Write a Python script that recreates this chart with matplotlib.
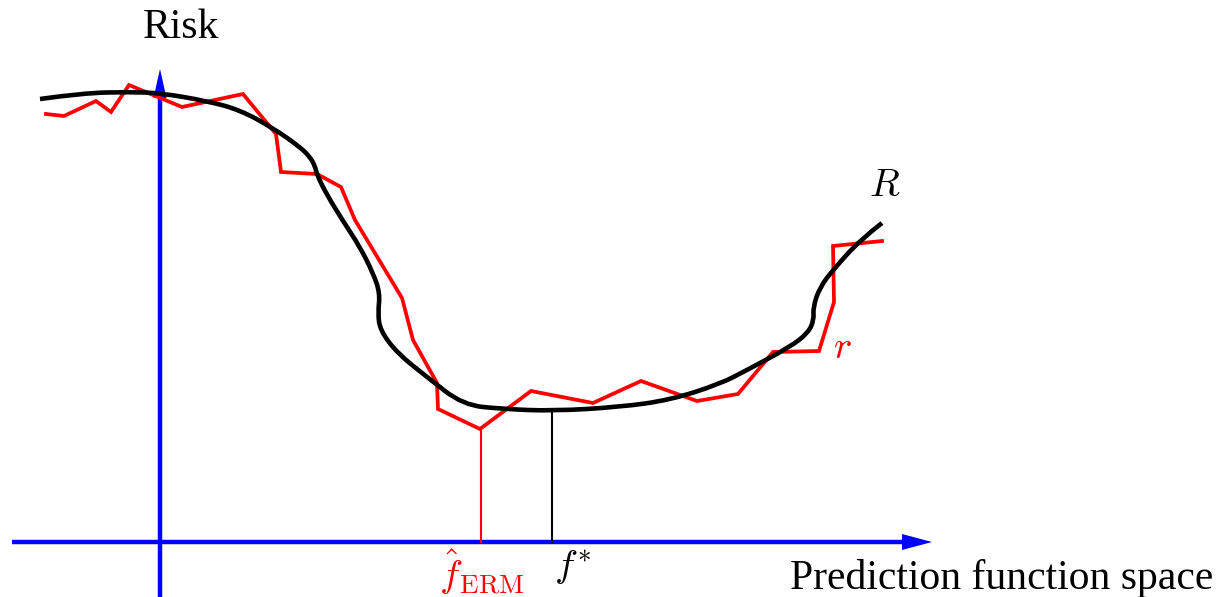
import matplotlib
matplotlib.use("Agg")
import matplotlib.pyplot as plt
from matplotlib.path import Path
from matplotlib.patches import PathPatch

plt.rcParams["mathtext.fontset"] = "cm"
plt.rcParams["font.family"] = ["Liberation Serif", "DejaVu Serif"]

# Empirical risk r (piecewise linear)
r_x = [46, 64, 96, 111, 129, 182, 243, 276, 281, 317, 341, 355, 402, 413, 437, 438,
       480, 531, 593, 641, 697, 738, 773, 819, 834, 833, 882]
r_y = [114, 116, 101, 112, 85, 107, 94, 134, 172, 174, 187, 220, 298, 340, 383, 409,
       429, 391, 403, 381, 401, 394, 352, 351, 302, 246, 241]

# True risk R (smooth curve through these control points)
R_x = [40, 83, 130, 160, 207, 240, 273, 300, 310, 315, 317, 327, 343, 360, 373, 380,
       378, 380, 397, 427, 463, 503, 553, 620, 670, 720, 747, 790, 808, 814, 813,
       820, 833, 860, 882]
R_y = [99, 93, 92, 93, 101, 110, 128, 147, 157, 166, 175, 195, 221, 247, 273, 293,
       313, 330, 353, 377, 405, 409, 411, 407, 400, 384, 370, 347, 333, 320, 307,
       287, 270, 240, 223]

f_erm_x, f_erm_y = 481, 429
f_star_x, f_star_y = 552, 411

fig = plt.figure(figsize=(12.16, 5.97), dpi=100)
ax = fig.add_axes([0, 0, 1, 1])
ax.set_xlim(0, 1216)
ax.set_ylim(597, 0)
ax.axis("off")

axis_y = 542
axis_x = 160

# coordinate axes with arrowheads
ax.plot([12, 905], [axis_y, axis_y], color="blue", lw=3.2, solid_capstyle="butt", zorder=1)
ax.fill([902, 932, 902], [axis_y - 8, axis_y, axis_y + 8], color="blue", lw=0, zorder=1)
ax.plot([axis_x, axis_x], [597, 95], color="blue", lw=3.2, solid_capstyle="butt", zorder=1)
ax.fill([axis_x - 6.5, axis_x, axis_x + 6.5], [98, 69, 98], color="blue", lw=0, zorder=1)

# drop lines to the minimisers
ax.plot([f_erm_x, f_erm_x], [f_erm_y, axis_y], color="red", lw=1.5, zorder=2)
ax.plot([f_star_x, f_star_x], [f_star_y, axis_y], color="black", lw=1.5, zorder=2)

ax.plot(r_x, r_y, color="red", lw=2.7, solid_joinstyle="miter", zorder=3)

# smooth R: quadratic Bezier segments between midpoints of the control polygon
pts = list(zip(R_x, R_y))
verts = [pts[0]]
codes = [Path.MOVETO]
for i in range(1, len(pts) - 1):
    mid = ((pts[i][0] + pts[i + 1][0]) / 2, (pts[i][1] + pts[i + 1][1]) / 2)
    if i == len(pts) - 2:
        mid = pts[-1]
    verts += [pts[i], mid]
    codes += [Path.CURVE3, Path.CURVE3]
ax.add_patch(PathPatch(Path(verts, codes), facecolor="none", edgecolor="black",
                       lw=3.3, capstyle="butt", zorder=4))

ax.text(181, 28, "Risk", fontsize=30, ha="center", va="center")
ax.text(1213, 578, "Prediction function space", fontsize=30, ha="right", va="center")
ax.text(885, 186, r"$R$", fontsize=28, ha="center", va="center")
ax.text(842, 348, r"$r$", fontsize=28, ha="center", va="center", color="red")
ax.text(482, 572, r"$\hat{f}_{\mathrm{ERM}}$", fontsize=28, ha="center", va="center", color="red")
ax.text(573, 568, r"$f^{*}$", fontsize=28, ha="center", va="center")

fig.savefig("out.png", dpi=100)
